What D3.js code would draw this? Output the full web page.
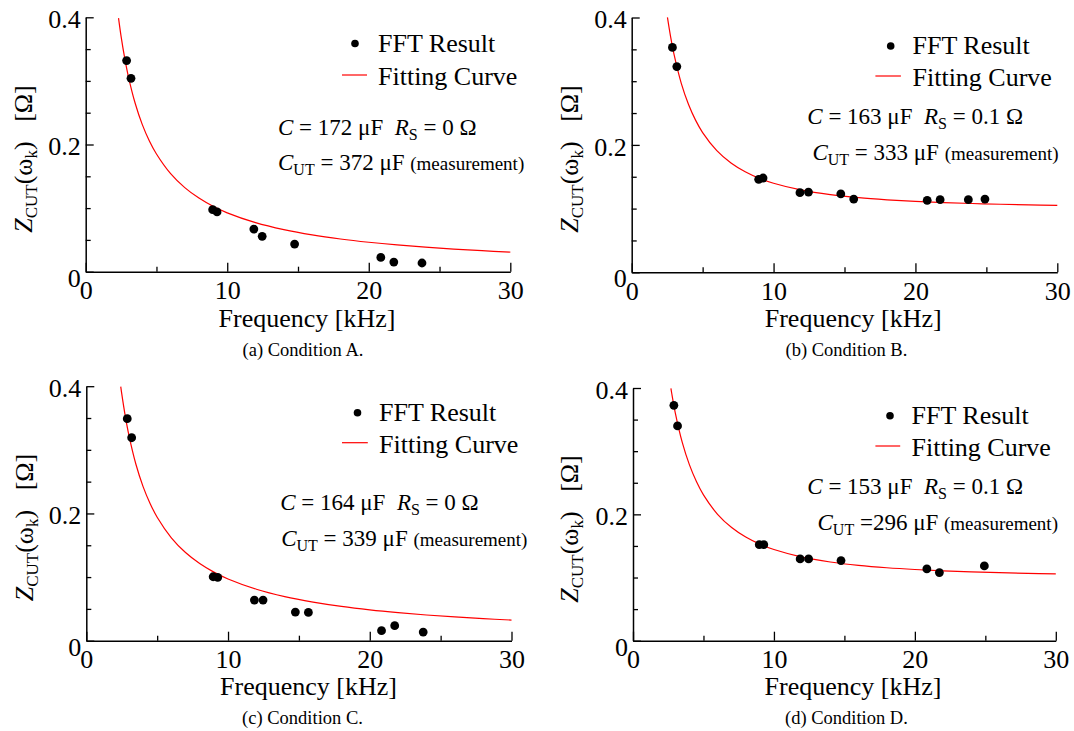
<!DOCTYPE html>
<html>
<head>
<meta charset="utf-8">
<script src="https://cdn.jsdelivr.net/npm/d3@7"></script>
<style>
  html, body { margin: 0; padding: 0; background: #fff; }
  svg text { font-family: 'Liberation Serif', 'Times New Roman', Times, 'DejaVu Serif', serif !important; }
</style>
</head>
<body>
<svg id="chart" width="1074" height="731"></svg>
<script>
// ---------------- data ----------------
const panelIds = ["a", "b", "c", "d"];
const captions = ["(a) Condition A.", "(b) Condition B.", "(c) Condition C.", "(d) Condition D."];
const capC = ["172", "163", "164", "153"];
const resS = ["0", "0.1", "0", "0.1"];
const capCUT = ["= 372", "= 333", "= 339", "=296"];

const xTicks = [0, 10, 20, 30];
const xMinorTicks = [5, 15, 25];
const yTicks = [0, 0.2, 0.4];
const yMinorTicks = [0.05, 0.1, 0.15, 0.25, 0.3, 0.35];

// FFT result points (frequency kHz, |Z| ohm)
const freqA = [2.89, 3.2, 8.97, 9.28, 11.88, 12.47, 14.76, 20.85, 21.77, 23.76];
const zA    = [0.332, 0.304, 0.0975, 0.094, 0.067, 0.0556, 0.0435, 0.0225, 0.0152, 0.0137];
const freqB = [2.87, 3.18, 8.95, 9.26, 11.86, 12.46, 14.74, 15.65, 20.83, 21.74, 23.73, 24.9];
const zB    = [0.353, 0.323, 0.146, 0.148, 0.125, 0.126, 0.123, 0.115, 0.113, 0.114, 0.114, 0.115];
const freqC = [2.89, 3.2, 8.95, 9.27, 11.86, 12.47, 14.75, 15.67, 20.83, 21.76, 23.77];
const zC    = [0.349, 0.319, 0.1005, 0.0995, 0.0639, 0.0639, 0.045, 0.0445, 0.0157, 0.0236, 0.0136];
const freqD = [2.9, 3.16, 8.96, 9.28, 11.86, 12.46, 14.76, 20.85, 21.74, 24.93];
const zD    = [0.3725, 0.34, 0.152, 0.152, 0.1295, 0.1295, 0.1268, 0.1136, 0.1078, 0.1184];

// Fitting curve samples
const fitFreqA = [2.32, 2.5, 2.75, 3, 3.5, 4, 4.5, 5, 6, 7, 8, 9, 10, 12, 14, 16, 18, 20, 22, 24, 26, 28, 30];
const fitZA    = [0.3988, 0.3701, 0.3365, 0.3084, 0.2644, 0.2313, 0.2056, 0.1851, 0.1542, 0.1322, 0.1157, 0.1028, 0.0925, 0.0771, 0.0661, 0.0578, 0.0514, 0.0463, 0.0421, 0.0386, 0.0356, 0.0330, 0.0308];
const fitFreqB = [2.52, 2.75, 3, 3.5, 4, 4.5, 5, 6, 7, 8, 9, 10, 12, 14, 16, 18, 20, 22, 24, 26, 28, 30];
const fitZB    = [0.4002, 0.3689, 0.3405, 0.2963, 0.2638, 0.2389, 0.2194, 0.1910, 0.1716, 0.1578, 0.1475, 0.1398, 0.1289, 0.1219, 0.1171, 0.1138, 0.1113, 0.1094, 0.1080, 0.1068, 0.1059, 0.1052];
const fitFreqC = [2.43, 2.5, 2.75, 3, 3.5, 4, 4.5, 5, 6, 7, 8, 9, 10, 12, 14, 16, 18, 20, 22, 24, 26, 28, 30];
const fitZC    = [0.3994, 0.3882, 0.3529, 0.3235, 0.2773, 0.2426, 0.2157, 0.1941, 0.1618, 0.1386, 0.1213, 0.1078, 0.0970, 0.0809, 0.0693, 0.0607, 0.0539, 0.0485, 0.0441, 0.0404, 0.0373, 0.0347, 0.0324];
const fitFreqD = [2.69, 2.75, 3, 3.5, 4, 4.5, 5, 6, 7, 8, 9, 10, 12, 14, 16, 18, 20, 22, 24, 26, 28, 30];
const fitZD    = [0.3994, 0.3913, 0.3608, 0.3136, 0.2787, 0.2519, 0.2308, 0.2001, 0.1791, 0.1640, 0.1528, 0.1443, 0.1323, 0.1246, 0.1193, 0.1155, 0.1127, 0.1106, 0.1090, 0.1077, 0.1067, 0.1058];

const pointFreqs = [freqA, freqB, freqC, freqD];
const pointZs = [zA, zB, zC, zD];
const fitFreqs = [fitFreqA, fitFreqB, fitFreqC, fitFreqD];
const fitZs = [fitZA, fitZB, fitZC, fitZD];

// ---------------- layout ----------------
const layout = [
  { left: 85.7, top: 17.3, w: 424.6, h: 254.4,
    leg: { dot: [355, 43.5], line: [342, 367, 75], tx: 378, b1: 52, b2: 84.5 },
    ann: { x1: 278, b1: 135, x2: 278, b2: 170 },
    ylab: [31.5, 159], xlab: [307, 327], cap: [303, 356] },
  { left: 631.7, top: 17.5, w: 425.6, h: 254.8,
    leg: { dot: [890.7, 46], line: [875.4, 900.9, 76], tx: 912.5, b1: 54, b2: 86 },
    ann: { x1: 807.3, b1: 123.5, x2: 812.4, b2: 159.5 },
    ylab: [577.5, 159], xlab: [853.2, 327], cap: [846.4, 356] },
  { left: 86.3, top: 386.2, w: 425.2, h: 254.5,
    leg: { dot: [357.5, 412.7], line: [342, 367.8, 442.7], tx: 379, b1: 421, b2: 452.5 },
    ann: { x1: 280.2, b1: 510, x2: 281.2, b2: 545.7 },
    ylab: [33, 527.5], xlab: [308.5, 695], cap: [302.5, 724] },
  { left: 633, top: 388, w: 422.8, h: 252.7,
    leg: { dot: [890, 415.7], line: [875.4, 900.2, 446], tx: 911.5, b1: 424, b2: 456 },
    ann: { x1: 807.3, b1: 493.5, x2: 817.5, b2: 530 },
    ylab: [578, 529], xlab: [853, 695], cap: [846.4, 724] }
];

const FONT = "'Liberation Serif', 'Times New Roman', Times, 'DejaVu Serif', serif";
const svg = d3.select("#chart").attr("font-family", FONT);
const FS = 26;

panelIds.forEach((id, i) => {
  const L = layout[i];
  const x = d3.scaleLinear().domain([0, 30]).range([L.left, L.left + L.w]);
  const y = d3.scaleLinear().domain([0, 0.4]).range([L.top + L.h, L.top]);
  const g = svg.append("g").attr("class", "panel-" + id).attr("font-family", FONT);

  // minor ticks
  g.append("g").attr("transform", `translate(0,${L.top + L.h})`)
    .call(d3.axisBottom(x).tickValues(xMinorTicks).tickSize(-5).tickSizeOuter(0).tickFormat(""))
    .call(a => a.select(".domain").remove())
    .call(a => a.selectAll("line").attr("stroke", "#000").attr("stroke-width", 1.3));
  g.append("g").attr("transform", `translate(${L.left},0)`)
    .call(d3.axisLeft(y).tickValues(yMinorTicks).tickSize(-5).tickSizeOuter(0).tickFormat(""))
    .call(a => a.select(".domain").remove())
    .call(a => a.selectAll("line").attr("stroke", "#000").attr("stroke-width", 1.3));

  // major x axis
  const xa = g.append("g").attr("transform", `translate(0,${L.top + L.h})`)
    .call(d3.axisBottom(x).tickValues(xTicks).tickSize(-9).tickSizeOuter(0).tickPadding(9)
      .tickFormat(d3.format("d")));
  xa.attr("font-family", FONT);
  xa.select(".domain").attr("stroke", "#000").attr("stroke-width", 1.5);
  xa.selectAll("line").attr("stroke", "#000").attr("stroke-width", 1.3);
  xa.selectAll("text").attr("font-family", FONT).attr("font-size", FS).attr("fill", "#000");

  // major y axis
  const ya = g.append("g").attr("transform", `translate(${L.left},0)`)
    .call(d3.axisLeft(y).tickValues(yTicks).tickSize(-8).tickSizeOuter(0).tickPadding(5)
      .tickFormat(d => d === 0 ? "0" : d.toFixed(1)));
  ya.attr("font-family", FONT);
  ya.select(".domain").attr("stroke", "#000").attr("stroke-width", 1.5);
  ya.selectAll("line").attr("stroke", "#000").attr("stroke-width", 1.3);
  ya.selectAll("text").attr("font-family", FONT).attr("font-size", FS)
    .attr("fill", "#000").attr("dy", d => d === 0 ? "0.55em" : "0.4em");

  // fitting curve
  const fitData = fitFreqs[i].map((f, k) => [f, fitZs[i][k]]);
  g.append("path").datum(fitData)
    .attr("fill", "none").attr("stroke", "#ff0000").attr("stroke-width", 1.2)
    .attr("d", d3.line().x(d => x(d[0])).y(d => y(d[1])).curve(d3.curveCatmullRom.alpha(0.5)));

  // FFT points
  const pts = pointFreqs[i].map((f, k) => [f, pointZs[i][k]]);
  g.selectAll("circle.pt").data(pts).enter().append("circle").attr("class", "pt")
    .attr("cx", d => x(d[0])).attr("cy", d => y(d[1])).attr("r", 4.4).attr("fill", "#000");

  // legend
  g.append("circle").attr("cx", L.leg.dot[0]).attr("cy", L.leg.dot[1]).attr("r", 3.8).attr("fill", "#000");
  g.append("text").attr("x", L.leg.tx).attr("y", L.leg.b1).attr("font-size", FS).text("FFT Result");
  g.append("line").attr("x1", L.leg.line[0]).attr("x2", L.leg.line[1])
    .attr("y1", L.leg.line[2]).attr("y2", L.leg.line[2]).attr("stroke", "#ff0000").attr("stroke-width", 1.2);
  g.append("text").attr("x", L.leg.tx).attr("y", L.leg.b2).attr("font-size", FS).text("Fitting Curve");

  // annotation
  const AF = 23, SF = 16;
  const t1 = g.append("text").attr("x", L.ann.x1).attr("y", L.ann.b1).attr("font-size", AF)
    .attr("xml:space", "preserve");
  t1.append("tspan").attr("font-style", "italic").text("C");
  t1.append("tspan").text(" = " + capC[i] + " \u03bcF\u00a0\u00a0");
  t1.append("tspan").attr("font-style", "italic").text("R");
  t1.append("tspan").attr("font-size", SF).attr("dy", 5).text("S");
  t1.append("tspan").attr("dy", -5).text(" = " + resS[i] + " \u03a9");

  const t2 = g.append("text").attr("x", L.ann.x2).attr("y", L.ann.b2).attr("font-size", AF)
    .attr("xml:space", "preserve");
  t2.append("tspan").attr("font-style", "italic").text("C");
  t2.append("tspan").attr("font-size", SF).attr("dy", 5).text("UT");
  t2.append("tspan").attr("dy", -5).text(" " + capCUT[i] + " \u03bcF ");
  t2.append("tspan").attr("font-size", 19).text("(measurement)");

  // y label
  const yl = g.append("text")
    .attr("transform", `translate(${L.ylab[0]},${L.ylab[1]}) rotate(-90)`)
    .attr("text-anchor", "middle").attr("font-size", FS).attr("xml:space", "preserve");
  yl.append("tspan").attr("font-style", "italic").text("Z");
  yl.append("tspan").attr("font-size", 17).attr("dy", 5).text("CUT");
  yl.append("tspan").attr("dy", -5).text("(\u03c9");
  yl.append("tspan").attr("font-size", 17).attr("dy", 5).text("k");
  yl.append("tspan").attr("dy", -5).text(")\u00a0\u00a0 [\u03a9]");

  // x label
  g.append("text").attr("x", L.xlab[0]).attr("y", L.xlab[1]).attr("text-anchor", "middle")
    .attr("font-size", FS).text("Frequency [kHz]");

  // caption
  g.append("text").attr("x", L.cap[0]).attr("y", L.cap[1]).attr("text-anchor", "middle")
    .attr("font-size", 18.5).text(captions[i]);
});
</script>
</body>
</html>
